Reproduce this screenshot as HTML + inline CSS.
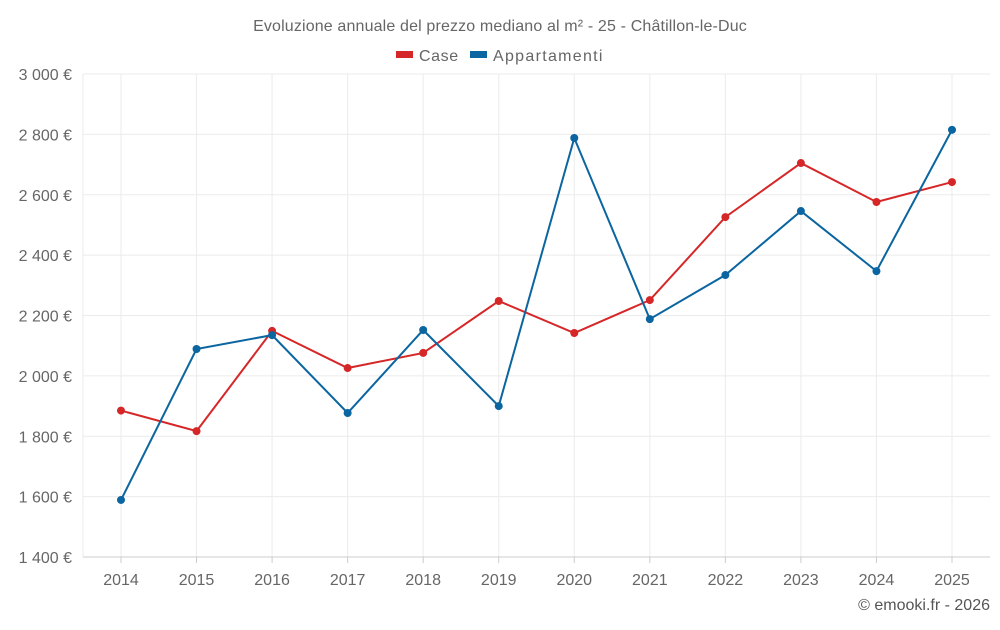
<!DOCTYPE html>
<html><head><meta charset="utf-8">
<style>
body{margin:0;background:#fff;font-family:"Liberation Sans",sans-serif;}
svg text{font-family:"Liberation Sans",sans-serif;}
</style></head>
<body>
<svg id="chart" width="1000" height="625" viewBox="0 0 1000 625" xmlns="http://www.w3.org/2000/svg">
<text x="500" y="31" text-anchor="middle" font-size="16" fill="#666" letter-spacing="0.15">Evoluzione annuale del prezzo mediano al m² - 25 - Châtillon-le-Duc</text>
<g>
<g><rect x="396" y="51" width="17" height="7" fill="#d62728"/><text x="419" y="61" font-size="16" fill="#666" letter-spacing="0.6">Case</text></g>
<g><rect x="470" y="51" width="17" height="7" fill="#0a65a0"/><text x="493" y="61" font-size="16" fill="#666" letter-spacing="1.3">Appartamenti</text></g>
</g>
<g id="grid"></g>
<g id="axes"></g>
<g id="series"></g>
<text x="990" y="610" text-anchor="end" font-size="16" fill="#555">© emooki.fr - 2026</text>
</svg>
<script>
const years=["2014","2015","2016","2017","2018","2019","2020","2021","2022","2023","2024","2025"];
const caseValues=[1885,1817,2149,2026,2076,2248,2142,2251,2526,2705,2576,2642];
const apptValues=[1589,2089,2135,1877,2152,1900,2788,2188,2334,2546,2347,2815];
const yTicks=[1400,1600,1800,2000,2200,2400,2600,2800,3000];
const yTickLabels=["1 400 €","1 600 €","1 800 €","2 000 €","2 200 €","2 400 €","2 600 €","2 800 €","3 000 €"];
const L=83,R=990,T=74,B=557,yMin=1400,yMax=3000;
const ns="http://www.w3.org/2000/svg";
function y(v){return B-(v-yMin)/(yMax-yMin)*(B-T);}
function x(i){return 121+i*(952-121)/(years.length-1);}
function mk(tag,attrs,parent){const e=document.createElementNS(ns,tag);for(const k in attrs)e.setAttribute(k,attrs[k]);parent.appendChild(e);return e;}
const grid=document.getElementById('grid'),axes=document.getElementById('axes'),series=document.getElementById('series');
yTicks.forEach((t,i)=>{
 const l=mk('line',{x1:L,x2:R,y1:y(t),y2:y(t),stroke:'#ebebeb','stroke-width':1},grid);
 
 
 const tx=mk('text',{x:72,y:y(t)+6,'text-anchor':'end','font-size':16,fill:'#666'},axes);
 tx.textContent=yTickLabels[i];
 
 
});
const vl=mk('line',{x1:L,x2:L,y1:T,y2:B,stroke:'#ebebeb'},grid);


years.forEach((yr,i)=>{
 const l=mk('line',{x1:x(i),x2:x(i),y1:T,y2:B,stroke:'#ebebeb'},grid);
 
 
 const tk=mk('line',{x1:x(i),x2:x(i),y1:B,y2:B+6,stroke:'#ccc'},axes);
 
 
 const tx=mk('text',{x:x(i),y:585,'text-anchor':'middle','font-size':16,fill:'#666'},axes);
 tx.textContent=yr;
 
 
});
const ax=mk('line',{x1:L,x2:R,y1:B,y2:B,stroke:'#ccc'},axes);


function draw(vals,color,name){
 const p=mk('polyline',{points:vals.map((v,i)=>x(i)+','+y(v)).join(' '),fill:'none',stroke:color,'stroke-width':2},series);
 
 
 vals.forEach((v,i)=>{
  const c=mk('circle',{cx:x(i),cy:y(v),r:4,fill:color},series);
  
  
 });
}
draw(caseValues,'#d62728','case');
draw(apptValues,'#0a65a0','appartamenti');
</script>
</body></html>
